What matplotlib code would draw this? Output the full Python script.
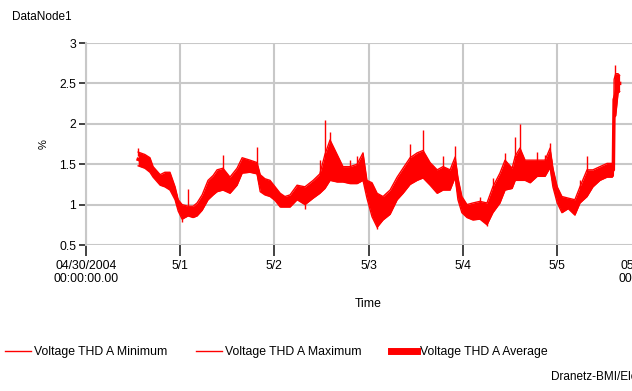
import matplotlib
matplotlib.use("Agg")
import matplotlib.pyplot as plt
from matplotlib.lines import Line2D

plt.rcParams['font.family'] = ['Liberation Sans Narrow', 'Liberation Sans', 'DejaVu Sans']
plt.rcParams['font.size'] = 8.8

# hours since 04/30/2004 00:00
hours = [13.3, 15.0, 16.3, 17.1, 18.9, 20.1, 21.4, 22.7, 23.5, 24.5,
         26.0, 27.3, 28.3, 29.6, 31.1, 32.4, 33.4, 34.9, 36.7, 38.5,
         39.8, 41.8, 43.6, 44.4, 45.6, 46.9, 48.2, 49.5, 50.7, 52.0,
         53.8, 55.8, 57.9, 59.6, 60.9, 62.2, 64.0, 65.5, 67.3, 69.1,
         70.6, 71.6, 72.9, 74.2, 75.7, 77.5, 79.3, 80.8, 82.6, 84.4,
         85.9, 87.7, 89.5, 91.0, 92.8, 94.1, 94.8, 95.8, 97.1, 98.6,
         100.4, 102.2, 103.7, 105.5, 106.8, 108.6, 109.4, 110.6, 111.9, 113.2,
         115.0, 117.0, 118.3, 119.0, 120.1, 121.3, 122.9, 124.6, 125.9, 127.7,
         129.2, 131.0, 132.8, 134.1, 134.4, 134.6, 135.0, 135.6, 136.0]

thd_min = [1.48, 1.45, 1.40, 1.34, 1.24, 1.22, 1.18, 1.06, 0.92, 0.82,
           0.86, 0.84, 0.86, 0.93, 1.06, 1.12, 1.16, 1.18, 1.14, 1.24,
           1.39, 1.40, 1.38, 1.16, 1.12, 1.10, 1.05, 0.97, 0.97, 0.97,
           1.06, 1.00, 1.08, 1.14, 1.20, 1.30, 1.28, 1.28, 1.26, 1.26,
           1.30, 1.08, 0.85, 0.72, 0.81, 0.88, 1.06, 1.14, 1.25, 1.30,
           1.33, 1.24, 1.14, 1.18, 1.18, 1.34, 1.06, 0.90, 0.84, 0.81,
           0.82, 0.75, 0.90, 1.02, 1.18, 1.20, 1.30, 1.30, 1.30, 1.27,
           1.35, 1.35, 1.46, 1.22, 1.02, 0.90, 0.95, 0.87, 1.02, 1.10,
           1.22, 1.30, 1.34, 1.34, 1.36, 2.08, 2.10, 2.38, 2.40]

thd_max = [1.65, 1.62, 1.58, 1.47, 1.37, 1.40, 1.40, 1.22, 1.06, 1.00,
           0.98, 0.98, 1.02, 1.12, 1.30, 1.36, 1.43, 1.45, 1.34, 1.45,
           1.58, 1.55, 1.52, 1.37, 1.32, 1.30, 1.22, 1.14, 1.10, 1.12,
           1.24, 1.22, 1.30, 1.38, 1.62, 1.80, 1.62, 1.47, 1.47, 1.50,
           1.64, 1.30, 1.27, 1.14, 1.10, 1.18, 1.34, 1.45, 1.58, 1.64,
           1.67, 1.52, 1.43, 1.47, 1.43, 1.59, 1.33, 1.10, 1.00, 1.02,
           1.04, 1.02, 1.22, 1.39, 1.55, 1.45, 1.60, 1.70, 1.55, 1.55,
           1.55, 1.55, 1.70, 1.45, 1.22, 1.10, 1.08, 1.06, 1.22, 1.43,
           1.43, 1.47, 1.51, 1.51, 1.50, 2.55, 2.62, 2.62, 2.60]

thd_avg = [1.56, 1.53, 1.49, 1.40, 1.30, 1.31, 1.29, 1.14, 0.99, 0.91,
           0.92, 0.91, 0.94, 1.02, 1.18, 1.24, 1.29, 1.31, 1.24, 1.34,
           1.48, 1.47, 1.45, 1.26, 1.22, 1.20, 1.13, 1.05, 1.03, 1.04,
           1.15, 1.11, 1.19, 1.26, 1.41, 1.55, 1.45, 1.37, 1.36, 1.38,
           1.47, 1.19, 1.06, 0.93, 0.95, 1.03, 1.20, 1.29, 1.41, 1.47,
           1.50, 1.38, 1.28, 1.32, 1.30, 1.46, 1.19, 1.00, 0.92, 0.91,
           0.93, 0.88, 1.06, 1.20, 1.36, 1.32, 1.45, 1.50, 1.42, 1.41,
           1.45, 1.45, 1.58, 1.33, 1.12, 1.00, 1.01, 0.96, 1.12, 1.26,
           1.32, 1.38, 1.42, 1.42, 1.43, 2.30, 2.36, 2.50, 2.50]

# short isolated spikes (start value -> end value)
spike_hours = [13.3, 26.0, 34.9, 43.6, 59.6, 60.9, 62.2, 67.3, 69.1, 82.6,
               85.9, 91.0, 94.1, 100.4, 103.7, 106.8, 109.4, 110.6, 115.0, 117.0,
               118.3, 125.9, 127.7, 134.8, 24.5, 74.2, 102.2, 55.8]
spike_from = [1.60, 0.95, 1.40, 1.50, 1.35, 1.55, 1.75, 1.45, 1.48, 1.55,
              1.65, 1.45, 1.55, 1.00, 1.20, 1.50, 1.58, 1.65, 1.52, 1.52,
              1.68, 1.20, 1.40, 2.55, 0.85, 0.75, 0.78, 1.02]
spike_to = [1.70, 1.19, 1.61, 1.71, 1.55, 2.05, 1.90, 1.55, 1.60, 1.75,
            1.92, 1.60, 1.72, 1.10, 1.33, 1.64, 1.84, 2.00, 1.65, 1.62,
            1.76, 1.30, 1.60, 2.73, 0.78, 0.70, 0.74, 0.95]

x_ticks = [0, 24, 48, 72, 96, 120, 144]
x_labels = ['04/30/2004\n00:00:00.00', '5/1', '5/2', '5/3', '5/4', '5/5', '05/06/2004\n00:00:00.00']
y_ticks = [0.5, 1, 1.5, 2, 2.5, 3]
y_labels = ['0.5', '1', '1.5', '2', '2.5', '3']
series_names = ['Voltage THD A Minimum', 'Voltage THD A Maximum', 'Voltage THD A Average']

W, H = 632, 391
fig = plt.figure(figsize=(W / 100, H / 100), dpi=100)
ax = fig.add_axes([86 / W, 1 - 245 / H, (651 - 86) / W, (245 - 43) / H])

red = '#ff0000'
ax.fill_between(hours, thd_min, thd_max, color=red, lw=0)
ax.plot(hours, thd_min, color=red, lw=1)
ax.plot(hours, thd_max, color=red, lw=1)
ax.plot(hours, thd_avg, color=red, lw=2.5)
ax.vlines(spike_hours, spike_from, spike_to, color=red, lw=1)

ax.set_xlim(0, 144)
ax.set_ylim(0.5, 3)
ax.set_xticks(x_ticks)
ax.set_xticklabels(x_labels, linespacing=1.1)
ax.set_yticks(y_ticks)
ax.set_yticklabels(y_labels)
ax.grid(True, color='#c8c8c8', lw=1.5)
ax.set_axisbelow(True)
for s in ['top', 'right', 'bottom']:
    ax.spines[s].set_visible(False)
ax.spines['left'].set_color('#c8c8c8')
ax.spines['left'].set_linewidth(1.5)
ax.tick_params(axis='y', length=5, width=1.2, color='#222222', pad=2)
ax.tick_params(axis='x', length=8, width=1.2, color='#222222', pad=3)

ax.set_xlabel('Time', labelpad=9)
ax.set_ylabel('%', rotation=90, labelpad=8, fontsize=8)

fig.text(12 / W, 1 - 17 / H, 'DataNode1', va='center', ha='left', fontsize=8.5)
fig.text(551 / W, 1 - 377 / H, 'Dranetz-BMI/Electrotek', va='center', ha='left', fontsize=8.5)

handles = [Line2D([], [], color=red, lw=1),
           Line2D([], [], color=red, lw=1),
           Line2D([], [], color=red, lw=5)]
fig.legend(handles, series_names, loc='center left', bbox_to_anchor=(5 / W, 1 - 352 / H),
           ncol=3, frameon=False, handlelength=2.1, handletextpad=0.25,
           columnspacing=2.4, borderaxespad=0, borderpad=0)

fig.savefig('out.png', dpi=100)
